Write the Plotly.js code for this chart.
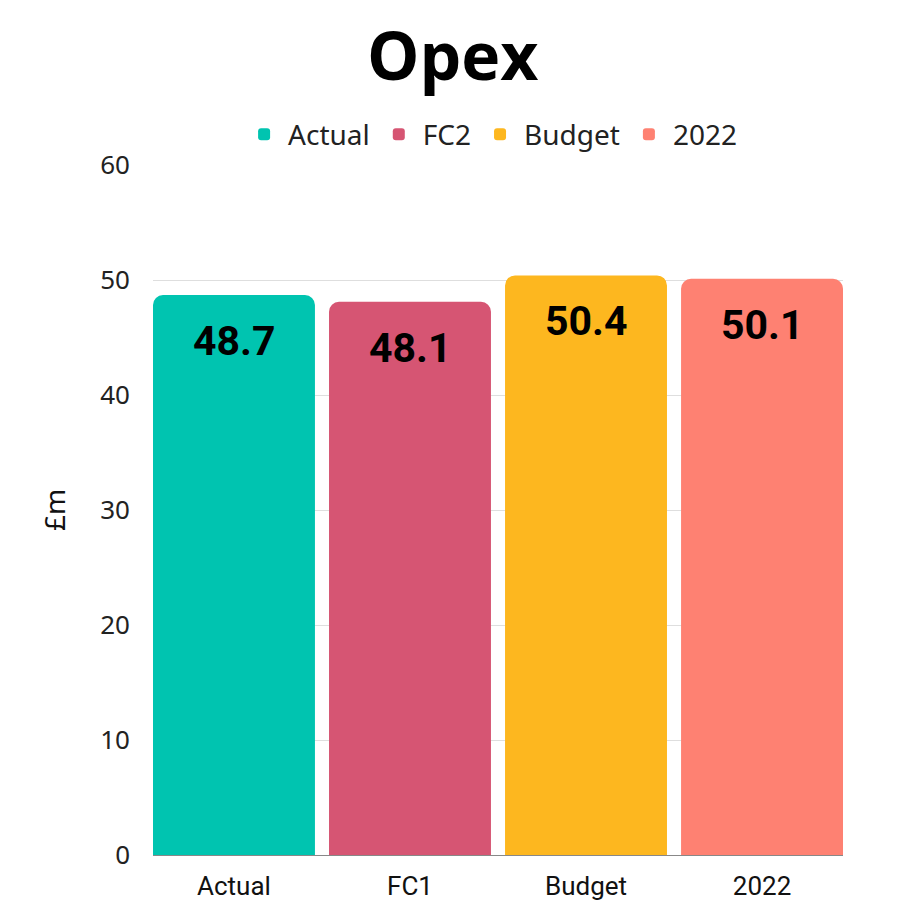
<!DOCTYPE html>
<html>
<head>
<meta charset="utf-8">
<script src="https://cdn.plot.ly/plotly-3.0.1.min.js"></script>
<style>html,body{margin:0;padding:0;background:#fff}#chart{width:920px;height:920px}</style>
</head>
<body>
<div id="chart"></div>
<script>
const categories = ["Actual", "FC1", "Budget", "2022"];
const legendNames = ["Actual", "FC2", "Budget", "2022"];
const values = [48.7, 48.1, 50.4, 50.1];
const labels = ["48.7", "48.1", "50.4", "50.1"];
const colors = ["#00C4B0", "#D65573", "#FDB71F", "#FE8172"];
const yTicks = [0, 10, 20, 30, 40, 50, 60];

const traces = categories.map((c, i) => ({
  type: "bar",
  x: categories,
  y: categories.map((_, j) => (j === i ? values[i] : null)),
  name: legendNames[i],
  marker: {color: colors[i], cornerradius: 10},
  hoverinfo: "skip"
}));

const annotations = categories.map((c, i) => ({
  x: i, y: values[i], xref: "x", yref: "y",
  text: "<b>" + labels[i] + "</b>",
  showarrow: false, yshift: -46,
  font: {family: "Roboto, 'DejaVu Sans', sans-serif", size: 41, color: "#000"}
}));

const layout = {
  width: 920, height: 920,
  margin: {l: 153, r: 77, t: 165, b: 65},
  paper_bgcolor: "#fff", plot_bgcolor: "#fff",
  barmode: "overlay",
  bargap: 0.08,
  title: {text: "<b>Opex</b>", x: 0.492, xref: "container", xanchor: "center", y: 0.938, yanchor: "middle",
          font: {family: "'Open Sans', Roboto, sans-serif", size: 66, color: "#000"}},
  showlegend: true,
  legend: {orientation: "h", x: 0.49, xanchor: "center", y: 1.008, yanchor: "bottom",
           font: {family: "'Noto Sans', 'Open Sans', sans-serif", size: 28, color: "#222"},
           itemwidth: 38, traceorder: "normal"},
  xaxis: {type: "category", range: [-0.46, categories.length - 0.54], showline: true, linecolor: "#888", linewidth: 1,
          ticks: "", tickfont: {family: "Roboto, 'Noto Sans', sans-serif", size: 26, color: "#111"},
          ticklabelstandoff: 8},
  yaxis: {range: [0, 60], tickvals: yTicks, showgrid: true, gridcolor: "#dedede", gridwidth: 1,
          zeroline: false, ticks: "", ticklabelstandoff: 22,
          tickfont: {family: "'Noto Sans', 'Open Sans', sans-serif", size: 26, color: "#222"},
          title: {text: "£m", standoff: 26, font: {family: "'Noto Sans', sans-serif", size: 28, color: "#111"}}},
  annotations: annotations
};

Plotly.newPlot("chart", traces, layout, {displayModeBar: false, staticPlot: true});
</script>
</body>
</html>
